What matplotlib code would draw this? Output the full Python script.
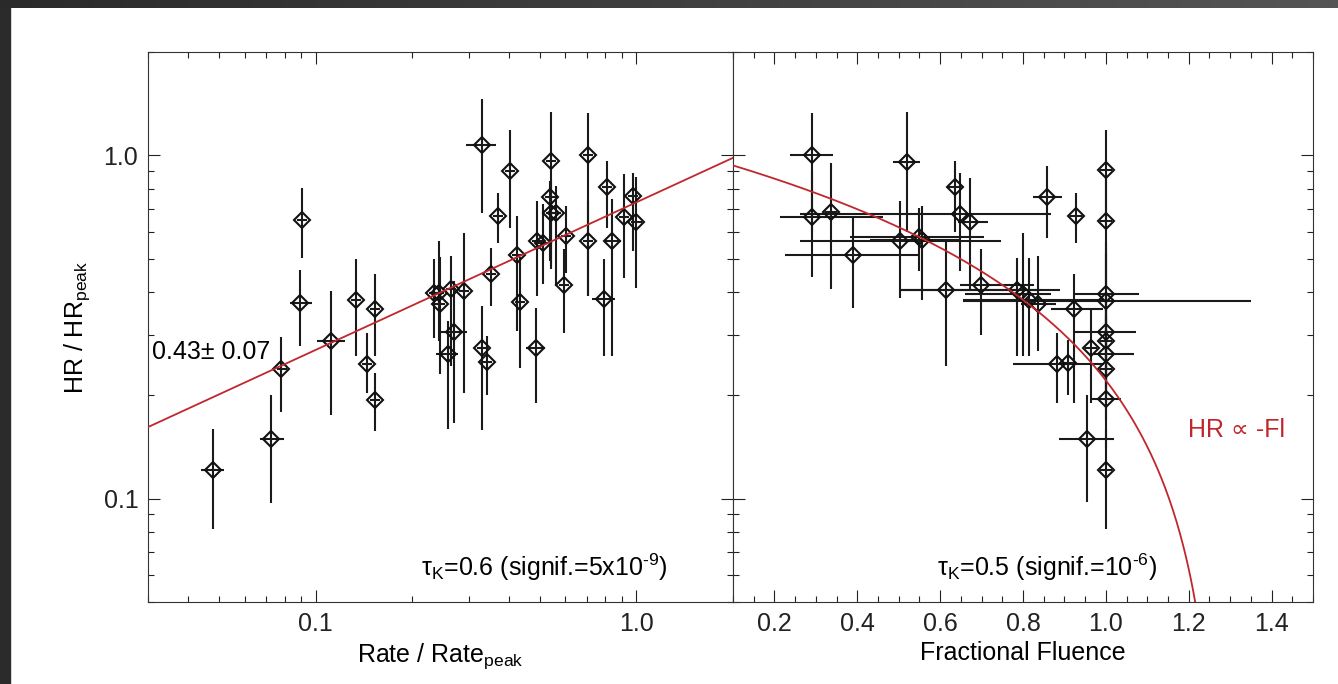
import numpy as np
import matplotlib
matplotlib.use("Agg")
import matplotlib.pyplot as plt
from matplotlib.ticker import LogLocator, NullFormatter, FixedLocator, MultipleLocator
from matplotlib.patches import Rectangle

plt.rcParams['font.family'] = ['Liberation Sans', 'DejaVu Sans']
plt.rcParams['mathtext.fontset'] = 'custom'
plt.rcParams['mathtext.rm'] = 'Liberation Sans'
plt.rcParams['mathtext.it'] = 'Liberation Sans:italic'

# linkes Panel: HR gegen Rate / Rate_peak
rate    = [0.0478, 0.0728, 0.0782, 0.0904, 0.0893, 0.112, 0.1334, 0.1533, 0.1444, 0.1527,
           0.330, 0.402, 0.371, 0.543, 0.704, 0.536, 0.543, 0.562, 0.810, 0.973,
           1.00, 0.914, 0.707, 0.840, 0.605, 0.489, 0.511, 0.4235, 0.352, 0.289,
           0.264, 0.2427, 0.2438, 0.2703, 0.2576, 0.330, 0.341, 0.434, 0.4847, 0.594,
           0.791, 0.234]
rate_lo = [0.044, 0.0668, 0.0755, 0.0872, 0.0829, 0.1007, 0.1287, 0.1478, 0.1393, 0.1473,
           0.295, 0.388, 0.358, 0.524, 0.679, 0.517, 0.524, 0.542, 0.781, 0.938,
           0.964, 0.881, 0.682, 0.790, 0.583, 0.472, 0.493, 0.408, 0.339, 0.279,
           0.255, 0.234, 0.235, 0.2427, 0.2375, 0.318, 0.329, 0.418, 0.4535, 0.573,
           0.725, 0.226]
rate_hi = [0.0519, 0.0794, 0.0811, 0.0937, 0.0972, 0.1232, 0.1383, 0.159, 0.1497, 0.1583,
           0.366, 0.417, 0.385, 0.563, 0.730, 0.556, 0.563, 0.583, 0.840, 1.009,
           1.037, 0.948, 0.733, 0.893, 0.627, 0.507, 0.530, 0.439, 0.365, 0.300,
           0.274, 0.252, 0.253, 0.2966, 0.278, 0.342, 0.354, 0.450, 0.5175, 0.616,
           0.855, 0.243]
hr_a    = [0.1215, 0.149, 0.238, 0.646, 0.372, 0.2875, 0.380, 0.356, 0.247, 0.194,
           1.07, 0.900, 0.665, 0.962, 1.00, 0.756, 0.679, 0.679, 0.808, 0.760,
           0.639, 0.661, 0.563, 0.563, 0.582, 0.563, 0.556, 0.511, 0.450, 0.402,
           0.407, 0.398, 0.369, 0.305, 0.264, 0.275, 0.250, 0.373, 0.275, 0.418,
           0.382, 0.398]
hr_a_lo = [0.0814, 0.097, 0.179, 0.502, 0.278, 0.175, 0.260, 0.260, 0.203, 0.157,
           0.679, 0.614, 0.555, 0.476, 0.389, 0.492, 0.466, 0.416, 0.614, 0.526,
           0.410, 0.439, 0.389, 0.260, 0.454, 0.389, 0.421, 0.307, 0.364, 0.203,
           0.243, 0.2875, 0.230, 0.166, 0.160, 0.159, 0.201, 0.240, 0.190, 0.303,
           0.260, 0.293]
hr_a_hi = [0.160, 0.201, 0.295, 0.803, 0.463, 0.402, 0.498, 0.451, 0.303, 0.232,
           1.459, 1.185, 0.776, 1.337, 1.328, 0.842, 0.842, 0.814, 0.962, 0.888,
           0.862, 0.882, 0.736, 0.746, 0.711, 0.736, 0.721, 0.665, 0.537, 0.594,
           0.509, 0.563, 0.505, 0.430, 0.329, 0.364, 0.297, 0.505, 0.359, 0.533,
           0.498, 0.498]

# rechtes Panel: HR gegen Fractional Fluence
fl      = [0.290, 0.519, 0.635, 0.857, 0.290, 0.337, 0.648, 0.673, 0.389, 0.504,
           0.548, 0.557, 0.615, 0.699, 0.786, 0.801, 0.815, 0.836, 0.922, 1.0,
           1.0, 1.0, 1.0, 1.0, 1.0, 1.0, 1.0, 0.964, 0.8815, 0.909,
           0.954, 1.0, 1.0, 0.9275]
fl_lo   = [0.238, 0.487, 0.620, 0.823, 0.214, 0.322, 0.262, 0.642, 0.226, 0.262,
           0.383, 0.431, 0.504, 0.649, 0.504, 0.661, 0.654, 0.794, 0.867, 0.923,
           0.654, 0.923, 0.985, 0.971, 0.985, 0.964, 0.985, 0.950, 0.775, 0.895,
           0.886, 0.985, 0.985, 0.913]
fl_hi   = [0.342, 0.552, 0.650, 0.894, 0.463, 0.352, 0.867, 0.715, 0.552, 0.746,
           0.705, 0.649, 0.843, 0.826, 0.889, 0.867, 0.993, 0.879, 0.993, 1.08,
           1.351, 1.073, 1.015, 1.068, 1.015, 1.036, 1.015, 0.978, 0.995, 0.923,
           1.019, 1.015, 1.015, 0.942]
hr_b    = [1.00, 0.958, 0.810, 0.756, 0.661, 0.684, 0.676, 0.640, 0.511, 0.563,
           0.578, 0.565, 0.406, 0.419, 0.404, 0.394, 0.380, 0.369, 0.356, 0.394,
           0.376, 0.305, 0.288, 0.263, 0.238, 0.195, 0.121, 0.275, 0.247, 0.249,
           0.149, 0.904, 0.643, 0.665]
hr_b_lo = [0.60, 0.60, 0.60, 0.574, 0.442, 0.408, 0.46, 0.408, 0.359, 0.384,
           0.46, 0.38, 0.243, 0.30, 0.26, 0.26, 0.26, 0.27, 0.19, 0.27,
           0.25, 0.22, 0.21, 0.19, 0.17, 0.14, 0.0814, 0.19, 0.19, 0.20,
           0.098, 0.62, 0.42, 0.555]
hr_b_hi = [1.33, 1.34, 0.962, 0.93, 0.90, 0.95, 0.888, 0.86, 0.657, 0.736,
           0.702, 0.711, 0.57, 0.533, 0.502, 0.594, 0.502, 0.51, 0.45, 0.56,
           0.52, 0.40, 0.37, 0.34, 0.31, 0.26, 0.16, 0.359, 0.303, 0.29,
           0.201, 1.185, 0.86, 0.776]

# Fitparameter
slope, norm = 0.43, 0.73          # HR = norm * rate^slope
lin_a, lin_b = 1.014, 0.793       # HR = a - b * Fl

red = '#c0272d'
fs = 18

fig = plt.figure(figsize=(13.38, 6.84), dpi=100)

# dunkler Rahmen oben/links wie im Screenshot
grad = fig.add_axes([0, 1 - 8 / 684, 1, 8 / 684])
grad.imshow(np.linspace(0, 1, 256)[None, :], aspect='auto',
            cmap=matplotlib.colors.LinearSegmentedColormap.from_list('g', ['#2a2a2a', '#555555']))
grad.axis('off')
fig.patches.append(Rectangle((0, 0), 10 / 1338, 1, transform=fig.transFigure, color='#2b2b2b', zorder=-1))

x0, x1, x2 = 148 / 1338, 733 / 1338, 1313 / 1338
yb, yt = 1 - 602 / 684, 1 - 52 / 684
ax1 = fig.add_axes([x0, yb, x1 - x0, yt - yb])
ax2 = fig.add_axes([x1, yb, x2 - x1, yt - yb])

eb_kw = dict(fmt='D', ms=8, mfc='none', mec='#111111', mew=1.5, ecolor='#1a1a1a',
             elinewidth=1.5, capsize=0, color='black', zorder=3)

r = np.array(rate); h = np.array(hr_a)
ax1.errorbar(r, h, xerr=[r - np.array(rate_lo), np.array(rate_hi) - r],
             yerr=[h - np.array(hr_a_lo), np.array(hr_a_hi) - h], **eb_kw)
xx = np.logspace(np.log10(0.03), np.log10(2.0), 100)
ax1.plot(xx, norm * xx ** slope, color=red, lw=1.3, zorder=4)

f = np.array(fl); g = np.array(hr_b)
ax2.errorbar(f, g, xerr=[f - np.array(fl_lo), np.array(fl_hi) - f],
             yerr=[g - np.array(hr_b_lo), np.array(hr_b_hi) - g], **eb_kw)
ff = np.linspace(0.1, 1.27, 400)
ax2.plot(ff, lin_a - lin_b * ff, color=red, lw=1.3, zorder=4)

for ax in (ax1, ax2):
    ax.set_yscale('log')
    ax.set_ylim(0.05, 2.0)
    ax.yaxis.set_major_locator(FixedLocator([0.1, 1.0]))
    ax.yaxis.set_minor_locator(LogLocator(subs=np.arange(2, 10)))
    ax.yaxis.set_minor_formatter(NullFormatter())
    ax.tick_params(which='both', direction='in', top=True, right=True, colors='#222222')
    ax.tick_params(which='major', length=8.5, width=0.8, labelsize=fs, pad=7)
    ax.tick_params(which='minor', length=4.5, width=0.8)
    for s in ax.spines.values():
        s.set_linewidth(0.8)
        s.set_color('#333333')

ax1.set_xscale('log')
ax1.set_xlim(0.03, 2.0)
ax1.set_xticks([0.1, 1.0])
ax1.set_xticklabels(['0.1', '1.0'])
ax1.xaxis.set_minor_locator(LogLocator(subs=np.arange(2, 10)))
ax1.xaxis.set_minor_formatter(NullFormatter())
ax1.set_yticklabels(['0.1', '1.0'])

ax2.set_xlim(0.1, 1.5)
ax2.xaxis.set_major_locator(FixedLocator([0.2, 0.4, 0.6, 0.8, 1.0, 1.2, 1.4]))
ax2.xaxis.set_minor_locator(MultipleLocator(0.05))
ax2.set_xticklabels(['0.2', '0.4', '0.6', '0.8', '1.0', '1.2', '1.4'])
ax2.tick_params(axis='y', labelleft=False)

ax1.set_ylabel(r'HR / HR$_{\rm peak}$', fontsize=fs, labelpad=8)
ax1.set_xlabel(r'Rate / Rate$_{\rm peak}$', fontsize=fs, labelpad=4)
ax2.set_xlabel('Fractional Fluence', fontsize=fs, labelpad=4)

ax1.text(0.007, 0.4545, u'0.43\u00b1 0.07', transform=ax1.transAxes, fontsize=fs, va='center', ha='left')
ax1.text(0.889, 0.0636, u'\u03c4$_{\\rm K}$=0.6 (signif.=5x10$^{\\rm \u2010 9}$)', transform=ax1.transAxes,
         fontsize=fs, va='center', ha='right')
ax2.text(0.352, 0.0636, u'\u03c4$_{\\rm K}$=0.5 (signif.=10$^{\\rm \u2010 6}$)', transform=ax2.transAxes,
         fontsize=fs, va='center', ha='left')
ax2.text(0.784, 0.3127, u'HR \u221d -Fl', transform=ax2.transAxes, fontsize=fs, va='center',
         ha='left', color=red)

fig.savefig('out.png', dpi=100)
